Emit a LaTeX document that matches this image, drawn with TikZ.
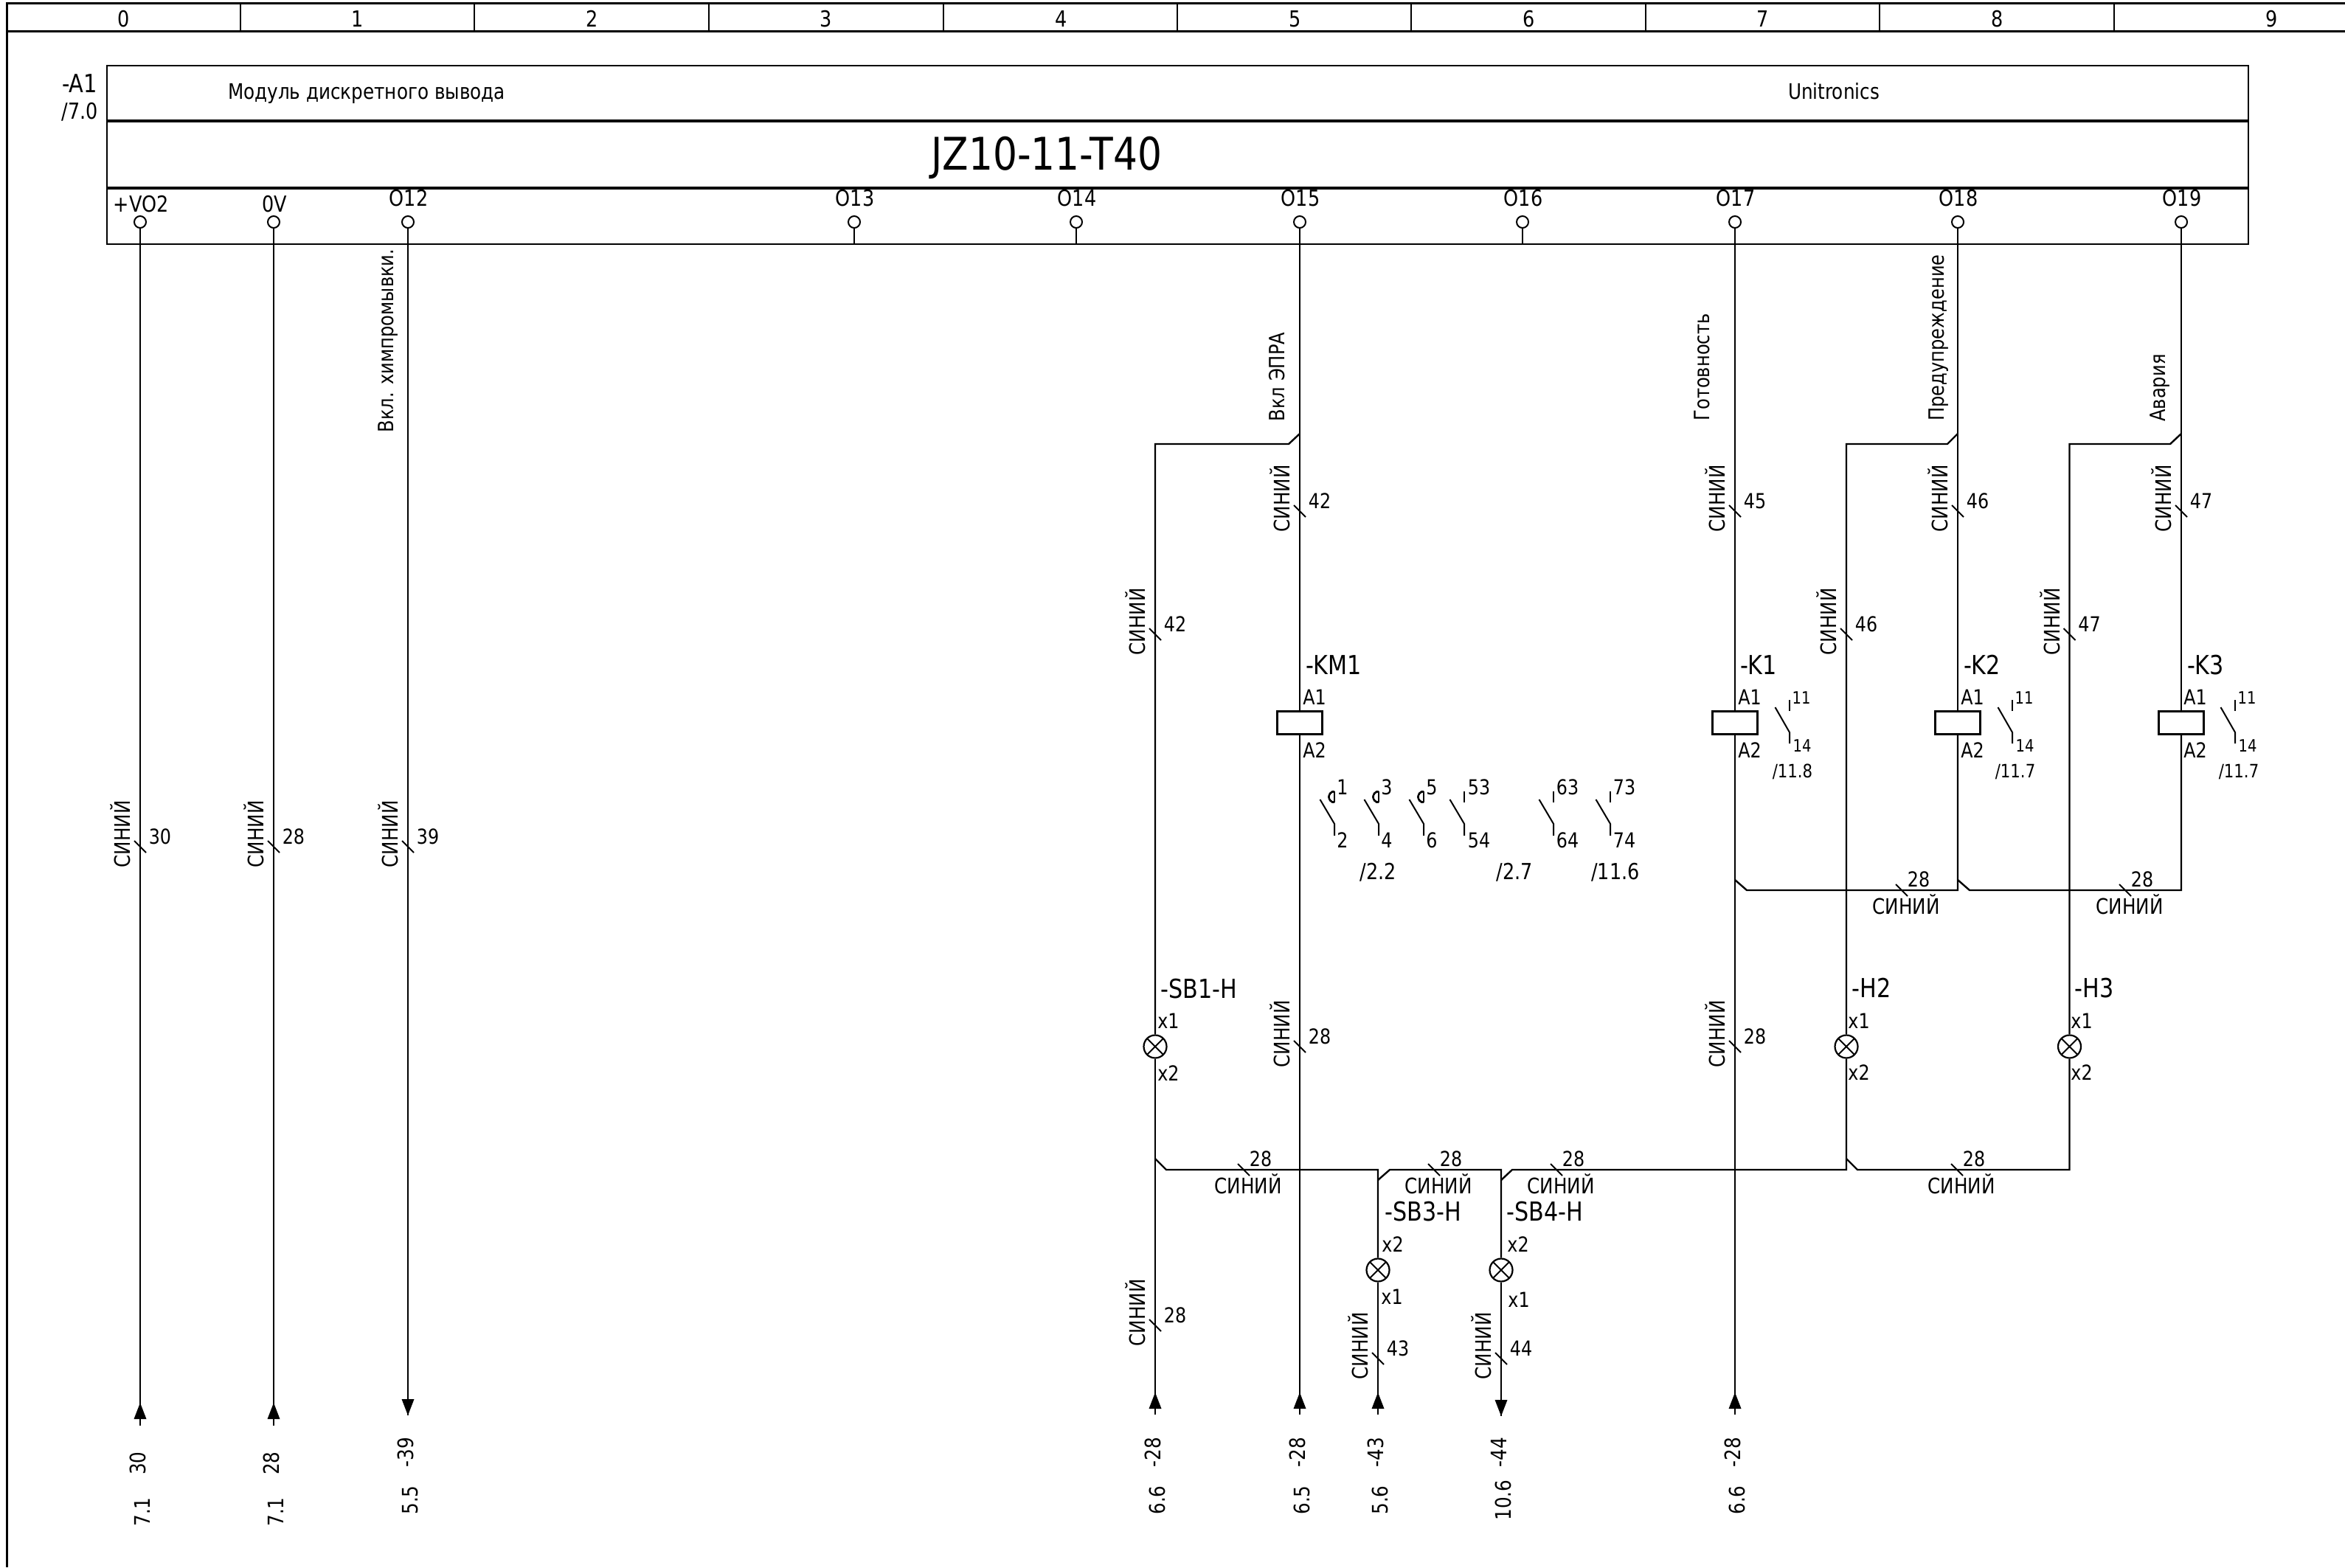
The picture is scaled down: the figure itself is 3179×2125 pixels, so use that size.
\documentclass[tikz,border=0pt]{standalone}
\usepackage{fontspec}
\setmainfont{DejaVu Sans}[FakeStretch=0.85]
\newcommand{\fs}[1]{\fontsize{#1}{#1}\selectfont}
\tikzset{
  x=1pt,y=-1pt,
  wire/.style={line width=2.4pt,line cap=butt},
  thin line/.style={line width=2pt},
  thickrule/.style={line width=4.4pt},
  frameline/.style={line width=3pt},
  txt/.style={inner sep=0pt,outer sep=0pt,text depth=0pt,anchor=center},
  fz/.style={font=\fs{#1},text height=#1*0.73pt},
  lab/.style={txt,fz=28},
  small/.style={txt,fz=23},
  tag/.style={txt,fz=35.5},
  rot/.style={txt,fz=28.5,rotate=90},
  ref/.style={txt,fz=29,rotate=90},
  modbox/.style={draw,line width=2.2pt,inner sep=0pt,anchor=north west},
  pin/.style={circle,draw,fill=white,line width=2pt,inner sep=0pt,minimum size=16pt},
  coil/.style={rectangle,draw,fill=white,line width=2.2pt,inner sep=0pt,minimum width=61pt,minimum height=31pt},
  lamp/.style={circle,draw,fill=white,line width=2.2pt,inner sep=0pt,minimum size=31pt,
    path picture={\draw[line width=2pt] (path picture bounding box.north west)--(path picture bounding box.south east)
      (path picture bounding box.north east)--(path picture bounding box.south west);}},
}
% tick on vertical wire: x, y, number
\newcommand{\vtick}[3]{%
  \draw[thin line] (#1-8,#2-8)--(#1+8,#2+8);
  \node[lab] at (#1+27,#2-14) {#3};
  \node[rot,fz=29] at (#1-24,#2-17) {СИНИЙ};}
% tick on horizontal wire: x, y, number
\newcommand{\htick}[3]{%
  \draw[thin line] (#1-8,#2-8)--(#1+8,#2+8);
  \node[lab] at (#1+23,#2-15) {#3};
  \node[lab,fz=29] at (#1+6,#2+22) {СИНИЙ};}
% up arrow: x (tip at y)
\newcommand{\uparr}[2]{\fill (#1,#2)--(#1+8.5,#2+22)--(#1-8.5,#2+22)--cycle;}
\newcommand{\dnarr}[2]{\fill (#1,#2)--(#1+8.5,#2-22)--(#1-8.5,#2-22)--cycle;}
% contact: x, top stub type handled apart
\newcommand{\contact}[1]{%
  \draw[thin line] (#1,1073)--(#1,1088);
  \draw[thin line] (#1-19.5,1084)--(#1,1117)--(#1,1133);}
\newcommand{\kcontact}[1]{%
  \draw[thin line] (#1,949)--(#1,964);
  \draw[thin line] (#1-19.5,959)--(#1,993)--(#1,1008);}
\begin{document}
\begin{tikzpicture}
\useasboundingbox (0,0) rectangle (3179,2125);
% page frame
\draw[frameline] (3179,5)--(9,5)--(9,2125);
\draw[frameline] (9,43)--(3179,43);
\foreach \x in {326,643,961,1279,1596,1913,2231,2548,2866}
  \draw[thin line] (\x,5)--(\x,43);
\foreach \x/\t in {168/0,485/1,803/2,1120/3,1439/4,1756/5,2073/6,2390/7,2708/8,3080/9}
  \node[lab,fz=30] at (\x,26) {\t};
% module
\node[modbox,minimum width=2903pt,minimum height=242pt] (module) at (144,88) {};
\draw[thickrule] (module.west |- 0,164)--(module.east |- 0,164);
\draw[thickrule] (module.west |- 0,255)--(module.east |- 0,255);
\node[txt,fz=29] (mtitle) at (497,124) {Модуль дискретного вывода};
\node[txt,fz=29] (mvendor) at (2486,124) {Unitronics};
\node[txt,fz=61] (mtype) at (1419,208) {JZ10-11-T40};
\node[txt,fz=34,anchor=east] (mtag) at (132,113) {-A1};
\node[txt,fz=30,anchor=east] (mref) at (133,151) {/7.0};
% pins
\foreach \n/\x/\t/\y in {a/190/+VO2/277,b/371/0V/277,c/553/O12/269,d/1158/O13/269,e/1459/O14/269,f/1762/O15/269,g/2064/O16/269,h/2352/O17/269,i/2654/O18/269,j/2957/O19/269}{
  \node[pin] (pin\n) at (\x,301) {};
  \node[txt,fz=30] (pl\n) at (\x+1,\y) {\t};
}
\foreach \n in {d,e,g} \draw[wire] (pin\n.south)--(pin\n |- module.south);
% signal names
\node[rot] (s1) at (523,462) {Вкл. химпромывки.};
\node[rot] (s2) at (1731,511) {Вкл ЭПРА};
\node[rot] (s3) at (2307,498) {Готовность};
\node[rot] (s4) at (2625,458) {Предупреждение};
\node[rot] (s5) at (2925,526) {Авария};
% coils
\node[coil] (km1) at (1762,980) {};
\node[coil] (k1) at (2352,980) {};
\node[coil] (k2) at (2654,980) {};
\node[coil] (k3) at (2957,980) {};
% lamps
\node[lamp] (sb1) at (1566,1419) {};
\node[lamp] (h2) at (2503,1419) {};
\node[lamp] (h3) at (2805.5,1419) {};
\node[lamp] (sb3) at (1868,1722) {};
\node[lamp] (sb4) at (2035,1722) {};
% free ends
\coordinate (ea) at (190,1933);
\coordinate (eb) at (371,1933);
\coordinate (ec) at (553,1919);
\coordinate (e1) at (1566,1918);
\coordinate (e2) at (1762,1918);
\coordinate (e3) at (1868,1918);
\coordinate (e4) at (2035,1920);
\coordinate (e5) at (2352,1918);
% straight wires
\draw[wire] (pina.south)--(ea);
\draw[wire] (pinb.south)--(eb);
\draw[wire] (pinc.south)--(ec);
\draw[wire] (pinf.south)--(km1.north);
\draw[wire] (km1.south)--(e2);
\draw[wire] (pinh.south)--(k1.north);
\draw[wire] (k1.south)--(e5);
\draw[wire] (pini.south)--(k2.north);
\draw[wire] (pinj.south)--(k3.north);
% upper branches
\draw[wire] (1762,588)--(1747,602)--(1566,602)--(sb1.north);
\draw[wire] (2654,588)--(2640,602)--(2503,602)--(h2.north);
\draw[wire] (2957,588)--(2942,602)--(2805.5,602)--(h3.north);
% lamp returns
\draw[wire] (sb1.south)--(e1);
\draw[wire] (1566,1571)--(1581,1586)--(1868,1586)--(sb3.north);
\draw[wire] (1868,1600)--(1884,1586)--(2035,1586)--(sb4.north);
\draw[wire] (2035,1600)--(2050,1586)--(2503,1586)--(h2.south);
\draw[wire] (2503,1571)--(2518,1586)--(2805.5,1586)--(h3.south);
\draw[wire] (sb3.south)--(e3);
\draw[wire] (sb4.south)--(e4);
% K return
\draw[wire] (2352,1193)--(2368,1207)--(2654,1207)--(k2.south);
\draw[wire] (2654,1193)--(2670,1207)--(2957,1207)--(k3.south);
% arrows
\uparr{190}{1902}\uparr{371}{1902}\dnarr{553}{1919}
\uparr{1566}{1888}\uparr{1762}{1888}\uparr{1868}{1888}\dnarr{2035}{1920}\uparr{2352}{1888}
% wire ticks
\vtick{190}{1148}{30}\vtick{371}{1148}{28}\vtick{553}{1148}{39}
\vtick{1762}{693}{42}\vtick{1566}{860}{42}
\vtick{2352}{693}{45}\vtick{2654}{693}{46}\vtick{2957}{693}{47}
\vtick{2503}{860}{46}\vtick{2805.5}{860}{47}
\vtick{1762}{1419}{28}\vtick{2352}{1419}{28}\vtick{1566}{1797}{28}
\vtick{1868}{1842}{43}\vtick{2035}{1842}{44}
\htick{1686}{1586}{28}\htick{1944}{1586}{28}\htick{2110}{1586}{28}\htick{2653}{1586}{28}
\htick{2578}{1207}{28}\htick{2881}{1207}{28}
% device tags
\node[tag] at (1808,902) {-KM1};
\node[lab] at (1782,945) {A1};\node[lab] at (1782,1017) {A2};
\node[tag] at (2384,902) {-K1};
\node[lab] at (2372,945) {A1};\node[lab] at (2372,1017) {A2};
\node[tag] at (2687,902) {-K2};
\node[lab] at (2674,945) {A1};\node[lab] at (2674,1017) {A2};
\node[tag] at (2990,902) {-K3};
\node[lab] at (2976,945) {A1};\node[lab] at (2976,1017) {A2};
\node[tag] at (1625,1341) {-SB1-H};
\node[lab] at (1584,1384) {x1};\node[lab] at (1584,1455) {x2};
\node[tag] at (1929,1643) {-SB3-H};
\node[lab] at (1888,1687) {x2};\node[lab] at (1887,1758) {x1};
\node[tag] at (2094,1643) {-SB4-H};
\node[lab] at (2058,1687) {x2};\node[lab] at (2059,1762) {x1};
\node[tag] at (2537,1340) {-H2};
\node[lab] at (2520,1384) {x1};\node[lab] at (2520,1454) {x2};
\node[tag] at (2839,1340) {-H3};
\node[lab] at (2822,1384) {x1};\node[lab] at (2822,1454) {x2};
% contacts of KM1
\foreach \x in {1809,1869,1930,1985,2106,2183} \contact{\x}
\foreach \x in {1809,1869,1930}
  \draw[thin line] (\x,1073) arc[start angle=270,end angle=90,radius=7.5];
\foreach \x/\u/\v in {1820/1/2,1880/3/4,1941/5/6,2005/53/54,2125/63/64,2202/73/74}{
  \node[lab] at (\x,1067) {\u};
  \node[lab] at (\x,1139) {\v};
}
\node[txt,fz=30] at (1868,1182) {/2.2};
\node[txt,fz=30] at (2053,1182) {/2.7};
\node[txt,fz=30] at (2190,1182) {/11.6};
% contacts of K1-K3
\foreach \x/\r/\t in {2426/2430/{/11.8},2728/2732/{/11.7},3030/3035/{/11.7}}{
  \kcontact{\x}
  \node[small] at (\x+16,946) {11};
  \node[small] at (\x+17,1011) {14};
  \node[small,fz=25] at (\r,1045) {\t};
}
% cross references
\foreach \x/\a/\b/\ya/\yb in {190/30/7.1/1984/2050,371/28/7.1/1984/2050,553/-39/5.5/1969/2034,1566/-28/6.6/1969/2034,1762/-28/6.5/1969/2034,1868/-43/5.6/1969/2034,2035/-44/10.6/1969/2034,2352/-28/6.6/1969/2034}{
  \node[ref] at (\x-3,\ya) {\a};
  \node[ref] at (\x+3,\yb) {\b};
}
\end{tikzpicture}
\end{document}
